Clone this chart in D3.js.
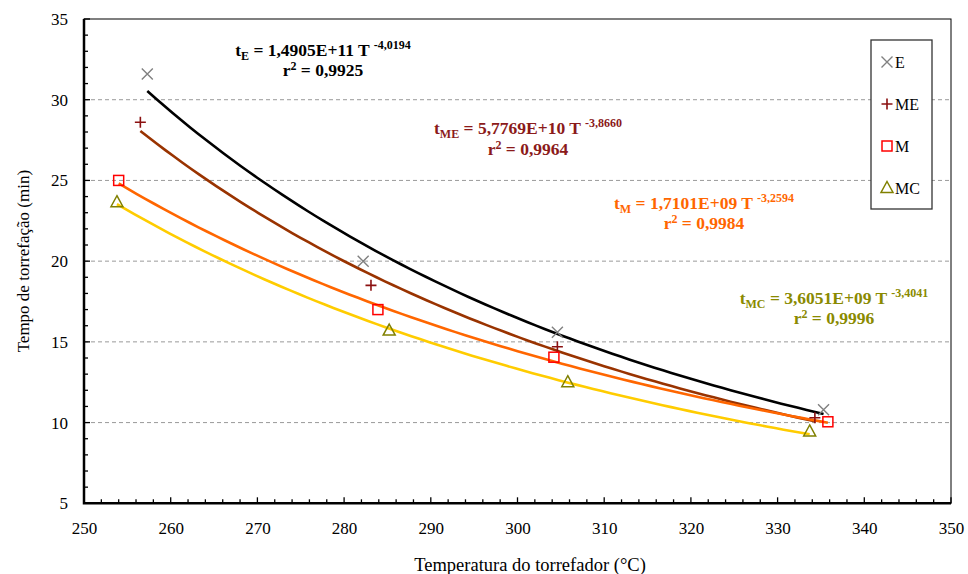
<!DOCTYPE html>
<html>
<head>
<meta charset="utf-8">
<script src="https://cdn.jsdelivr.net/npm/d3@7"></script>
<style>
  body { margin: 0; background: #fff; }
  svg text { font-family: "Liberation Serif", "Times New Roman", serif !important; }
</style>
</head>
<body>
<div id="chart"></div>
<script>
'use strict'

////////////////////////////////////
/////////////// data ///////////////
////////////////////////////////////

const seriesNames = ['E', 'ME', 'M', 'MC']

const tempE  = [257.3, 282.2, 304.6, 335.3]
const timeE  = [31.6, 20.0, 15.6, 10.8]
const tempME = [256.5, 283.1, 304.6, 334.3]
const timeME = [28.6, 18.5, 14.7, 10.3]
const tempM  = [254.0, 283.9, 304.2, 335.8]
const timeM  = [25.0, 17.0, 14.05, 10.05]
const tempMC = [253.8, 285.2, 305.8, 333.7]
const timeMC = [23.65, 15.7, 12.5, 9.45]

// power trendlines t = a * T^b (as printed on the chart)
const fitA = [1.4905e11, 5.7769e10, 1.7101e9, 3.6051e9]
const fitB = [-4.0194, -3.8660, -3.2594, -3.4041]
const fitAText = ['1,4905E+11', '5,7769E+10', '1,7101E+09', '3,6051E+09']
const fitBText = ['-4,0194', '-3,8660', '-3,2594', '-3,4041']
const fitR2Text = ['0,9925', '0,9964', '0,9984', '0,9996']

const xTicks = [250, 260, 270, 280, 290, 300, 310, 320, 330, 340, 350]
const yTicks = [5, 10, 15, 20, 25, 30, 35]

////////////////////////////////////
//////////// svg setup /////////////
////////////////////////////////////

const svgWidth = 968
const svgHeight = 574
const margin = { left: 84, right: 17, top: 19, bottom: 70.7 }
const width = svgWidth - margin.left - margin.right
const height = svgHeight - margin.top - margin.bottom
const serif = '"Liberation Serif", "Times New Roman", serif'

const svg = d3.select('#chart').append('svg')
    .attr('width', svgWidth)
    .attr('height', svgHeight)
    .attr('font-family', serif)

const g = svg.append('g')
    .attr('transform', `translate(${margin.left},${margin.top})`)

const xScale = d3.scaleLinear().domain([250, 350]).range([0, width])
const yScale = d3.scaleLinear().domain([5, 35]).range([height, 0])

const series = [
    { name: 'E',  x: tempE,  y: timeE,  line: '#000000', marker: '#808080', text: '#000000', symbol: 'cross' },
    { name: 'ME', x: tempME, y: timeME, line: '#993300', marker: '#8b1010', text: '#8b1a1a', symbol: 'plus' },
    { name: 'M',  x: tempM,  y: timeM,  line: '#ff6600', marker: '#ff0000', text: '#ff6600', symbol: 'square' },
    { name: 'MC', x: tempMC, y: timeMC, line: '#ffcc00', marker: '#808000', text: '#8a8a00', symbol: 'triangle' }
]

////////////////////////////////////
//////////////// grid //////////////
////////////////////////////////////

g.append('g')
    .selectAll('line')
    .data(yTicks.filter(d => d > 5 && d < 35))
    .join('line')
    .attr('x1', 0).attr('x2', width)
    .attr('y1', d => yScale(d)).attr('y2', d => yScale(d))
    .attr('stroke', '#9a9a9a')
    .attr('stroke-width', 1)
    .attr('stroke-dasharray', '4,3')

////////////////////////////////////
//////////////// axes //////////////
////////////////////////////////////

// minor ticks, inside the frame
const xMinor = d3.range(250, 351, 2)
g.append('g')
    .selectAll('line')
    .data(xMinor)
    .join('line')
    .attr('x1', d => xScale(d)).attr('x2', d => xScale(d))
    .attr('y1', height).attr('y2', d => height - (d % 10 === 0 ? 6 : 4))
    .attr('stroke', '#000').attr('stroke-width', 1.3)

const yMinor = d3.range(5, 36, 1)
g.append('g')
    .selectAll('line')
    .data(yMinor)
    .join('line')
    .attr('x1', 0).attr('x2', d => (d % 5 === 0 ? 6 : 4))
    .attr('y1', d => yScale(d)).attr('y2', d => yScale(d))
    .attr('stroke', '#000').attr('stroke-width', 1.3)

const xAxis = d3.axisBottom(xScale).tickValues(xTicks).tickSize(0).tickPadding(19)
g.append('g')
    .attr('transform', `translate(0,${height})`)
    .call(xAxis)
    .attr('font-family', serif)
    .attr('font-size', 17)
    .call(a => a.select('.domain').remove())
    .selectAll('text')
    .attr('fill', '#000')

const yAxis = d3.axisLeft(yScale).tickValues(yTicks).tickSize(0).tickPadding(16)
g.append('g')
    .call(yAxis)
    .attr('font-family', serif)
    .attr('font-size', 17)
    .call(a => a.select('.domain').remove())
    .selectAll('text')
    .attr('fill', '#000')

// frame: left and bottom heavier
g.append('rect')
    .attr('width', width).attr('height', height)
    .attr('fill', 'none').attr('stroke', '#000').attr('stroke-width', 1)
g.append('path')
    .attr('d', `M0,0V${height}H${width}`)
    .attr('fill', 'none').attr('stroke', '#000').attr('stroke-width', 2.5)

svg.append('text')
    .attr('transform', `translate(23,${margin.top + height / 2}) rotate(-90)`)
    .attr('text-anchor', 'middle')
    .attr('dominant-baseline', 'central')
    .attr('font-size', 17)
    .text('Tempo de torrefação (min)')

svg.append('text')
    .attr('x', 530)
    .attr('y', 571)
    .attr('text-anchor', 'middle')
    .attr('font-size', 18.5)
    .text('Temperatura do torrefador (°C)')

////////////////////////////////////
///////////// trendlines ///////////
////////////////////////////////////

const line = d3.line()
    .x(d => xScale(d[0]))
    .y(d => yScale(d[1]))

series.forEach((s, i) => {
    const [x0, x1] = d3.extent(s.x)
    const pts = d3.range(0, 81).map(k => {
        const t = x0 + (x1 - x0) * k / 80
        return [t, fitA[i] * Math.pow(t, fitB[i])]
    })
    g.append('path')
        .attr('d', line(pts))
        .attr('fill', 'none')
        .attr('stroke', s.line)
        .attr('stroke-width', 2.6)
})

////////////////////////////////////
/////////////// markers ////////////
////////////////////////////////////

function drawMarker(sel, symbol, color) {
    const r = 5.5
    if (symbol === 'cross') {
        sel.append('path').attr('d', `M${-r},${-r}L${r},${r}M${-r},${r}L${r},${-r}`)
            .attr('stroke', color).attr('stroke-width', 1.4).attr('fill', 'none')
    } else if (symbol === 'plus') {
        sel.append('path').attr('d', `M${-r},0H${r}M0,${-r}V${r}`)
            .attr('stroke', color).attr('stroke-width', 1.6).attr('fill', 'none')
    } else if (symbol === 'square') {
        sel.append('rect').attr('x', -5).attr('y', -5).attr('width', 10).attr('height', 10)
            .attr('stroke', color).attr('stroke-width', 1.5).attr('fill', 'none')
    } else {
        sel.append('path').attr('d', 'M0,-6.5L6,4.5L-6,4.5Z')
            .attr('stroke', color).attr('stroke-width', 1.5).attr('fill', 'none')
    }
}

series.forEach(s => {
    s.x.forEach((t, k) => {
        const m = g.append('g')
            .attr('transform', `translate(${xScale(t)},${yScale(s.y[k])})`)
        drawMarker(m, s.symbol, s.marker)
    })
})

////////////////////////////////////
/////////////// equations //////////
////////////////////////////////////

const eqPos = [[323, 56, 76], [528, 134, 155], [704, 209, 229], [834, 304, 324]]

series.forEach((s, i) => {
    const [cx, y1, y2] = eqPos[i]
    const t1 = svg.append('text')
        .attr('x', cx).attr('y', y1)
        .attr('text-anchor', 'middle')
        .attr('font-weight', 'bold')
        .attr('font-size', 17.5)
        .attr('fill', s.text)
    t1.append('tspan').text('t')
    t1.append('tspan').attr('font-size', 12).attr('dy', 3.5).text(s.name)
    t1.append('tspan').attr('dy', -3.5).text(` = ${fitAText[i]} T `)
    t1.append('tspan').attr('font-size', 12).attr('dy', -7).text(fitBText[i])

    const t2 = svg.append('text')
        .attr('x', cx).attr('y', y2)
        .attr('text-anchor', 'middle')
        .attr('font-weight', 'bold')
        .attr('font-size', 17.5)
        .attr('fill', s.text)
    t2.append('tspan').text('r')
    t2.append('tspan').attr('font-size', 12).attr('dy', -6).text('2')
    t2.append('tspan').attr('dy', 6).text(` = ${fitR2Text[i]}`)
})

////////////////////////////////////
/////////////// legend /////////////
////////////////////////////////////

const legend = svg.append('g')
legend.append('rect')
    .attr('x', 871).attr('y', 40).attr('width', 61).attr('height', 169)
    .attr('fill', '#fff').attr('stroke', '#333').attr('stroke-width', 1.3)

const legendY = d3.scalePoint().domain(seriesNames).range([62, 188])

series.forEach(s => {
    const m = legend.append('g')
        .attr('transform', `translate(887,${legendY(s.name)})`)
    drawMarker(m, s.symbol, s.marker)
    legend.append('text')
        .attr('x', 895).attr('y', legendY(s.name))
        .attr('dominant-baseline', 'central')
        .attr('font-size', 16)
        .text(s.name)
})
</script>
</body>
</html>
